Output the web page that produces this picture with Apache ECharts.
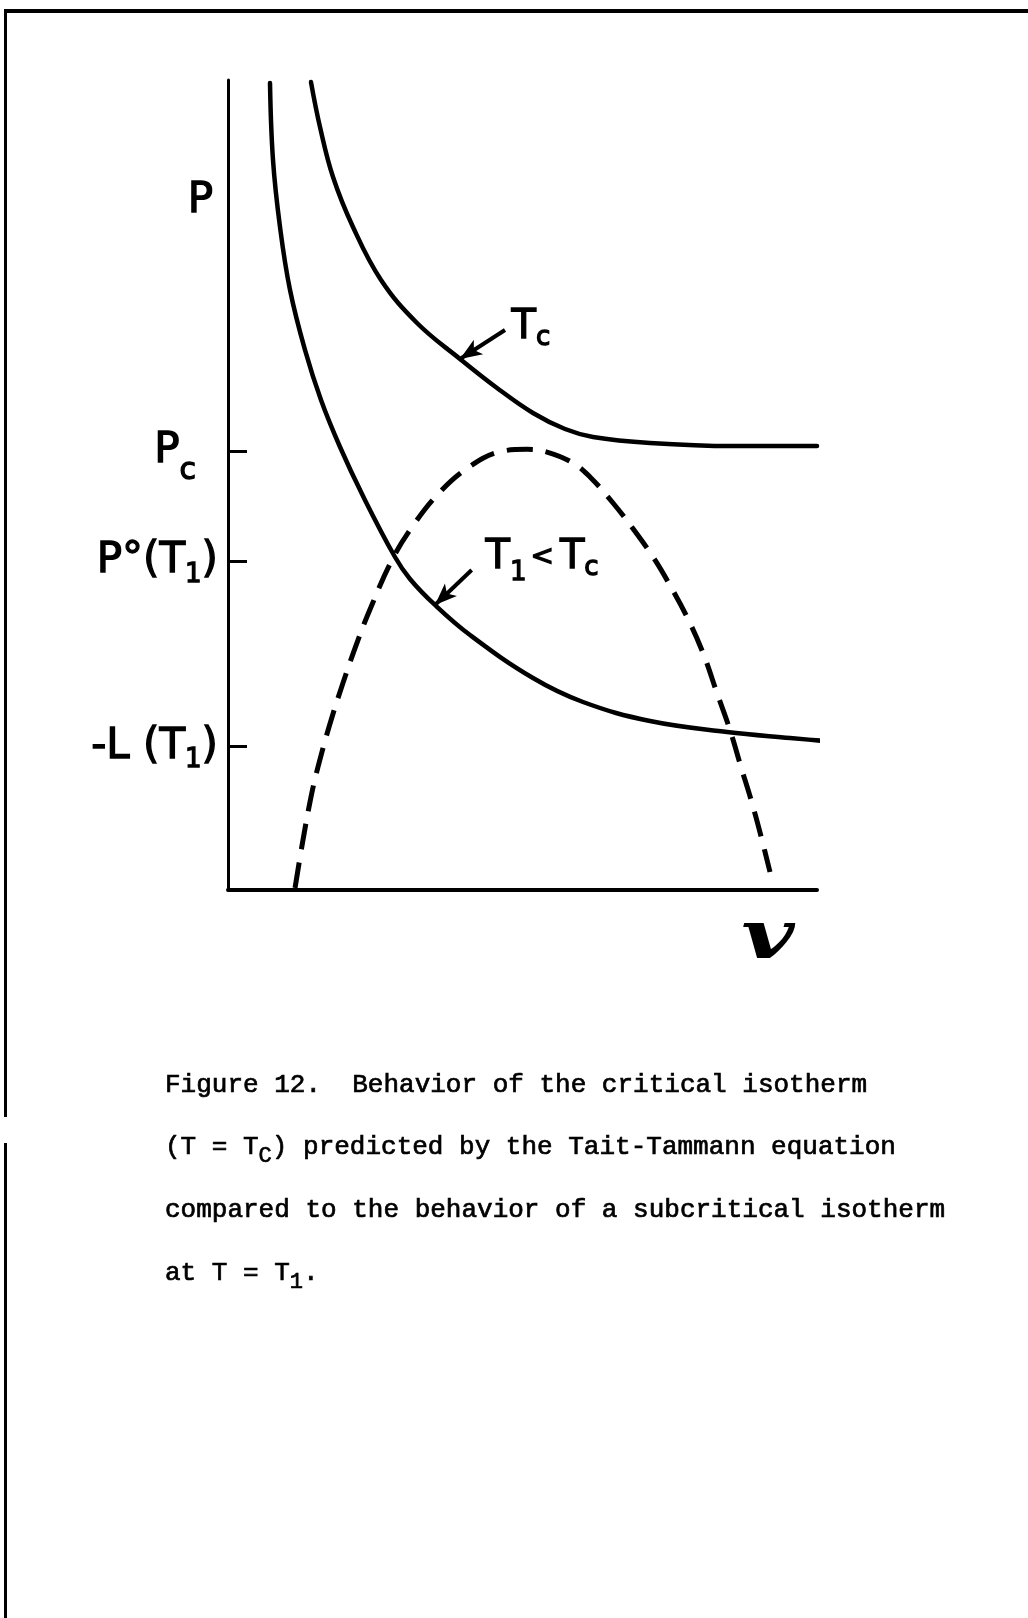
<!DOCTYPE html>
<html>
<head>
<meta charset="utf-8">
<script src="https://cdn.jsdelivr.net/npm/echarts@6/dist/echarts.min.js"></script>
<style>
  html, body { margin: 0; padding: 0; background: #fff; }
  #chart { position: absolute; left: 0; top: 0; width: 1028px; height: 1618px; }
  .rule { position: absolute; background: #000; }
</style>
</head>
<body>
<div id="chart"></div>
<!-- page frame -->
<div class="rule" style="left:4px; top:9px; width:1024px; height:4px;"></div>
<div class="rule" style="left:4px; top:9px; width:3px; height:1108px;"></div>
<div class="rule" style="left:4px; top:1143px; width:3px; height:475px;"></div>
<script>
// Volume (v) and pressure (P) in arbitrary units, axis range 0..100 each.
const tcIsotherm = [
  [14.09, 99.75], [15.62, 94.20], [17.83, 88.02], [21.22, 81.85], [25.98, 75.31],
  [32.09, 70.00], [39.39, 65.56], [45.67, 61.98], [51.78, 58.89], [57.22, 56.91],
  [61.97, 55.93], [71.65, 55.19], [85.74, 54.81], [100.0, 54.81]
];
const t1Isotherm = [
  [7.13, 99.63], [7.64, 90.12], [8.83, 81.85], [10.53, 74.07], [13.07, 66.67],
  [15.79, 60.49], [19.02, 54.69], [22.92, 48.64], [28.35, 41.11], [30.90, 38.40],
  [35.14, 35.19], [41.09, 31.48], [51.78, 26.17], [60.27, 23.21], [71.65, 20.86],
  [84.72, 19.51], [95.42, 18.77], [105.09, 18.15]
];
const coexistenceCurve = [
  [11.38, 0.25], [12.73, 6.17], [14.09, 11.48], [15.28, 15.19], [17.15, 20.12],
  [19.52, 25.56], [22.07, 30.86], [24.28, 34.94], [27.84, 40.74], [31.24, 44.81],
  [35.82, 49.01], [40.92, 52.22], [46.01, 54.07], [50.76, 54.40], [54.16, 54.07],
  [58.57, 52.72], [61.46, 50.99], [65.37, 47.78], [68.93, 44.44], [72.16, 41.11],
  [74.53, 38.27], [77.93, 33.70], [80.65, 29.26], [83.02, 24.32], [85.23, 19.75],
  [87.10, 15.19], [88.96, 10.74], [90.66, 6.17], [92.02, 2.22]
];

// Pressure axis: tick marks and labels
const pressureTickValues = [54.2, 40.6, 17.7];
const pressureLabelValues = [85.0, 54.2, 40.6, 17.7];
const pressureLabelTexts = ['{p|P}', '{m|P}{c|c}', '{m|P°(T}{s|1}{m|)}', '{m|-L (T}{s|1}{m|)}'];
const volumeAxisName = 'v';

// Annotation arrows (start -> tip) and their labels
const tcArrow = [[47.03, 69.14], [39.39, 65.56]];
const t1Arrow = [[41.37, 39.51], [35.14, 35.19]];
const tcLabelAt = [48.05, 69.38];
const t1LabelAt = [43.63, 40.99];
const tcLabelText = '{m|T}{s|c}';
const t1LabelText = '{m|T}{s1|1}{lt|<}{m|T}{s|c}';

const captionLines = [
  'Figure 12.  Behavior of the critical isotherm',
  '(T = T{sub|C}) predicted by the Tait-Tammann equation',
  'compared to the behavior of a subcritical isotherm',
  'at T = T{sub|1}.'
];

const LETTER = "'DejaVu Sans', 'Noto Sans', sans-serif";
const MONO = "'Liberation Mono', 'DejaVu Sans Mono', monospace";
const INK = '#000';

// lettering style: a thin outline in the ink colour gives a slightly heavier stroke
function letter(size, lineHeight, padding) {
  const s = { fontFamily: LETTER, fontSize: size, lineHeight: lineHeight, color: INK,
              textBorderColor: INK, textBorderWidth: 1.3 };
  if (padding) s.padding = padding;
  return s;
}

const axisRich = {
  m: letter(42, 46),
  p: letter(42, 46, [0, 5, 0, 0]),
  s: letter(26, 30, [28, 0, 0, 0]),
  c: letter(30, 30, [40, 22, 0, 0])
};
const noteRich = {
  m: letter(40, 44),
  s: letter(26, 30, [20, 0, 0, 0]),
  s1: letter(26, 30, [30, 2, 0, 0]),
  lt: letter(28, 30, [0, 6, 0, 2])
};

function arrowMarkLine(arrow) {
  return {
    silent: true,
    animation: false,
    symbol: ['none', 'arrow'],
    symbolSize: [13, 22],
    lineStyle: { color: INK, width: 4, type: 'solid' },
    label: { show: false },
    emphasis: { disabled: true },
    data: [[{ coord: arrow[0] }, { coord: arrow[1] }]]
  };
}
function labelMarkPoint(at, text) {
  return {
    silent: true,
    animation: false,
    symbol: 'circle',
    symbolSize: 1,
    itemStyle: { color: 'rgba(0,0,0,0)' },
    label: { show: true, position: 'right', distance: 0, formatter: text, rich: noteRich },
    data: [{ coord: at }]
  };
}

const chart = echarts.init(document.getElementById('chart'), null, { renderer: 'canvas' });

chart.setOption({
  animation: false,
  backgroundColor: '#fff',
  title: captionLines.map((line, i) => ({
    text: line,
    left: 165,
    top: 1061 + i * 62.6,
    padding: 0,
    textStyle: {
      fontFamily: MONO, fontSize: 26, fontWeight: 'normal', color: INK, lineHeight: 48,
      textBorderColor: INK, textBorderWidth: 0.7,
      rich: {
        sub: { fontFamily: MONO, fontSize: 22, lineHeight: 30, color: INK,
               textBorderColor: INK, textBorderWidth: 0.7, padding: [18, 0, 0, 0] }
      }
    }
  })),
  grid: { left: 228, top: 80, width: 589, height: 810, containLabel: false, outerBoundsMode: 'none' },
  xAxis: {
    type: 'value', min: 0, max: 100,
    axisLine: { show: true, lineStyle: { color: INK, width: 4 } },
    axisTick: { show: false },
    axisLabel: { show: false },
    splitLine: { show: false }
  },
  yAxis: {
    type: 'value', min: 0, max: 100,
    axisLine: { show: true, lineStyle: { color: INK, width: 3 } },
    axisTick: {
      show: true, inside: true, length: 19,
      lineStyle: { color: INK, width: 3 },
      customValues: pressureTickValues
    },
    axisLabel: {
      show: true, margin: 10,
      customValues: pressureLabelValues,
      formatter: function (val) {
        for (let i = 0; i < pressureLabelValues.length; i++) {
          if (Math.abs(pressureLabelValues[i] - val) < 1e-6) return pressureLabelTexts[i];
        }
        return '';
      },
      rich: axisRich
    },
    splitLine: { show: false }
  },
  graphic: [{
    type: 'text',
    x: 768, y: 940,
    scaleX: 1.35,
    silent: true,
    style: {
      text: volumeAxisName,
      font: "italic bold 68px 'DejaVu Serif', serif",
      fill: INK,
      align: 'center',
      verticalAlign: 'middle'
    }
  }],
  series: [
    {
      name: 'T = Tc', type: 'line', data: tcIsotherm, smooth: 0.4, symbol: 'none', clip: false,
      lineStyle: { color: INK, width: 4.5, cap: 'round', join: 'round' },
      markLine: arrowMarkLine(tcArrow),
      markPoint: labelMarkPoint(tcLabelAt, tcLabelText)
    },
    {
      name: 'T = T1', type: 'line', data: t1Isotherm, smooth: 0.4, symbol: 'none', clip: false,
      lineStyle: { color: INK, width: 4.5, cap: 'round', join: 'round' },
      markLine: arrowMarkLine(t1Arrow),
      markPoint: labelMarkPoint(t1LabelAt, t1LabelText)
    },
    {
      name: 'coexistence', type: 'line', data: coexistenceCurve, smooth: 0.4, symbol: 'none', clip: false,
      lineStyle: { color: INK, width: 5, type: [26, 13], cap: 'butt' }
    }
  ]
});
</script>
</body>
</html>
